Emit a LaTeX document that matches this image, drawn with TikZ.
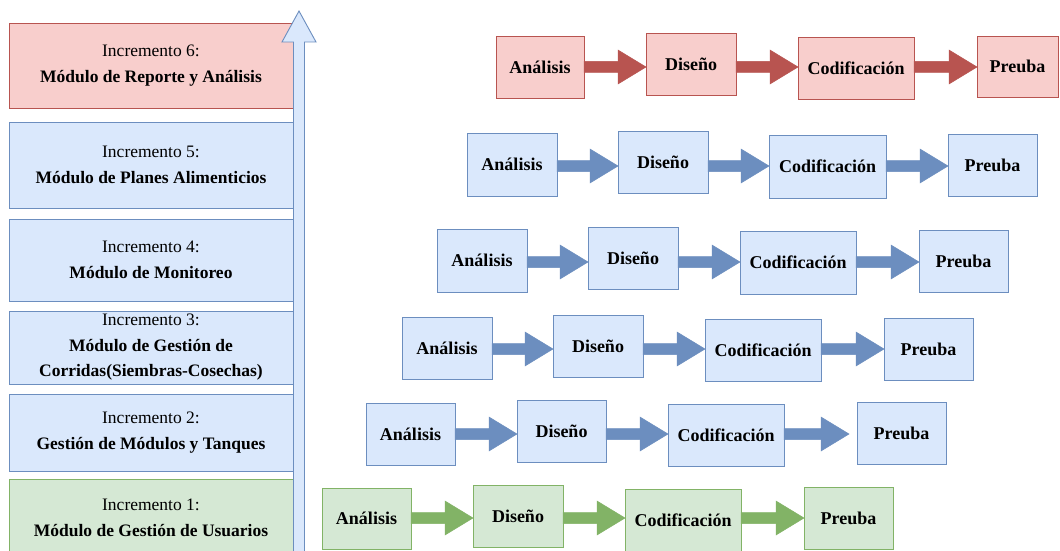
\documentclass[tikz,border=0pt]{standalone}
\usepackage{fontspec}
\setmainfont{Liberation Serif}[BoldFont={Liberation Serif Bold}]
\usetikzlibrary{calc}
\definecolor{redF}{HTML}{F8CECC}\definecolor{redS}{HTML}{B85450}
\definecolor{bluF}{HTML}{DAE8FC}\definecolor{bluS}{HTML}{6C8EBF}
\definecolor{grnF}{HTML}{D5E8D4}\definecolor{grnS}{HTML}{82B366}
\tikzset{
  basebox/.style={draw, line width=0.9pt, inner sep=0pt, outer sep=0pt, align=center},
  redbox/.style={basebox, fill=redF, draw=redS},
  blubox/.style={basebox, fill=bluF, draw=bluS},
  grnbox/.style={basebox, fill=grnF, draw=grnS},
  rtext/.style={font=\fontsize{18}{22}\selectfont\bfseries},
  ltext/.style={font=\fontsize{17.5}{25.5}\selectfont},
  redarr/.style={fill=redS, draw=redS, line width=0.5pt},
  bluarr/.style={fill=bluS, draw=bluS, line width=0.5pt},
  grnarr/.style={fill=grnS, draw=grnS, line width=0.5pt},
  uparrow/.style={fill=bluF, draw=bluS, line width=0.9pt}
}
% box by corners: name, x1, x2, y1, y2, style, text
\newcommand{\cbox}[7]{%
  \node[#6, minimum width={(#3-#2)*1pt}, minimum height={(#5-#4)*1pt}]
    (#1) at ({(#2+#3)/2},{(#4+#5)/2}) {#7};}
% block arrow: from node, to node, row coordinate, gap at tip, style
\newcommand{\barrow}[5]{%
  \path[#5] let \p1=(#1.east), \p2=(#2.west), \p3=(#3) in
    (\x1,\y3+5.5pt) -- ({\x2-#4pt-28pt},\y3+5.5pt) -- ({\x2-#4pt-28pt},\y3+17pt)
    -- ({\x2-#4pt},\y3) -- ({\x2-#4pt-28pt},\y3-17pt) -- ({\x2-#4pt-28pt},\y3-5.5pt)
    -- (\x1,\y3-5.5pt) -- cycle;}
% a row: prefix, style, arrow style, row y, 4x(x1,x2,y1,y2) , last gap
\newcommand{\row}[9]{%
  \coordinate (#1y) at (0,#4);
  \def\rowpre{#1}\def\rowst{#2}\def\rowar{#3}%
  \rowA#5\rowB#6\rowC#7\rowD#8\relax
  \barrow{#1a}{#1d}{#1y}{0}{#3}
  \barrow{#1d}{#1c}{#1y}{0}{#3}
  \barrow{#1c}{#1p}{#1y}{#9}{#3}}
\def\rowA#1,#2,#3,#4\rowB{\cbox{\rowpre a}{#1}{#2}{#3}{#4}{\rowst,rtext}{Análisis}\rowB}
\def\rowB#1,#2,#3,#4\rowC{\cbox{\rowpre d}{#1}{#2}{#3}{#4}{\rowst,rtext}{Diseño}\rowC}
\def\rowC#1,#2,#3,#4\rowD{\cbox{\rowpre c}{#1}{#2}{#3}{#4}{\rowst,rtext}{Codificación}\rowD}
\def\rowD#1,#2,#3,#4\relax{\cbox{\rowpre p}{#1}{#2}{#3}{#4}{\rowst,rtext}{Preuba}}
\begin{document}
\begin{tikzpicture}[x=1pt,y=-1pt]
\useasboundingbox (0,0) rectangle (1060,551);
\fill[white] (0,0) rectangle (1060,551);
% left increment boxes
\cbox{i6}{9}{293}{23}{108}{redbox,ltext}{Incremento 6:\\\textbf{Módulo de Reporte y Análisis}}
\cbox{i5}{9}{293}{122}{208}{blubox,ltext}{Incremento 5:\\\textbf{Módulo de Planes Alimenticios}}
\cbox{i4}{9}{293}{219}{301}{blubox,ltext}{Incremento 4:\\\textbf{Módulo de Monitoreo}}
\cbox{i3}{9}{293}{311}{384}{blubox,ltext}{Incremento 3:\\\textbf{Módulo de Gestión de}\\\textbf{Corridas(Siembras-Cosechas)}}
\cbox{i2}{9}{293}{394}{471}{blubox,ltext}{Incremento 2:\\\textbf{Gestión de Módulos y Tanques}}
\cbox{i1}{9}{293}{479}{557}{grnbox,ltext}{Incremento 1:\\\textbf{Módulo de Gestión de Usuarios}}
% big upward arrow
\coordinate (uptip) at (299,11);
\coordinate (upbase) at (299,570);
\path[uparrow] let \p1=(uptip), \p2=(upbase) in
  (\x1-5.5pt,\y2) -- (\x1-5.5pt,\y1-31pt) -- (\x1-17pt,\y1-31pt) -- (\x1,\y1)
  -- (\x1+17pt,\y1-31pt) -- (\x1+5.5pt,\y1-31pt) -- (\x1+5.5pt,\y2) -- cycle;
% rows
\row{r6}{redbox}{redarr}{67}{496,584,36,98}{646,736,33,95}{798,914,37,99}{977,1058,36,97}{0}
\row{r5}{blubox}{bluarr}{166}{467,557,133,196}{618,708,131,193}{769,886,135,198}{948,1037,134,196}{0}
\row{r4}{blubox}{bluarr}{262}{437,527,229,292}{588,678,227,289}{740,856,231,294}{919,1008,230,292}{0}
\row{r3}{blubox}{bluarr}{349}{402,492,317,379}{553,643,315,377}{705,821,319,381}{884,973,318,380}{0}
\row{r2}{blubox}{bluarr}{434}{366,455,403,465}{517,606,400,462}{668,784,404,466}{857,946,402,464}{8}
\row{r1}{grnbox}{grnarr}{518}{322,411,488,549}{473,563,485,547}{625,741,489,551}{804,893,487,549}{0}
\end{tikzpicture}
\end{document}
